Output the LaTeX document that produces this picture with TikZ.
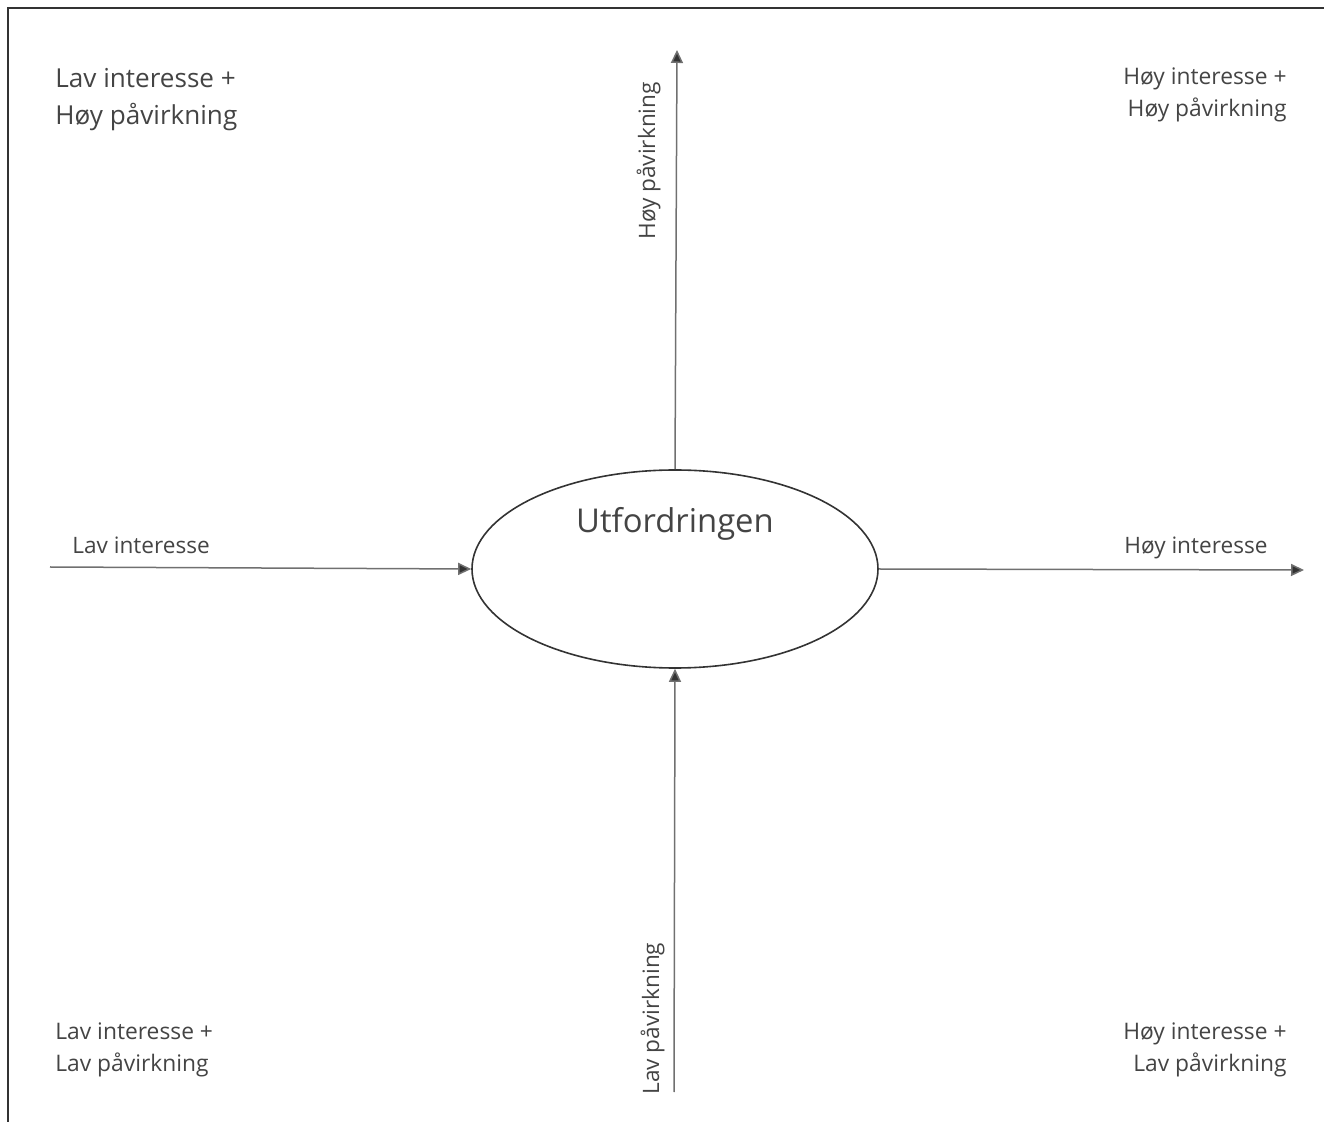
\documentclass[tikz,border=0pt]{standalone}
\usepackage{fontspec}
\setmainfont{Open Sans}
\usetikzlibrary{shapes.geometric,arrows.meta}
\definecolor{txt}{HTML}{444444}
\definecolor{ln}{HTML}{707070}
\definecolor{dk}{HTML}{333333}
\begin{document}
\begin{tikzpicture}[x=0.5pt,y=-0.5pt,
  axis/.style={draw=ln,line width=0.75pt,-{Triangle[length=6.5pt,width=6pt,fill=dk]}},
  corner/.style={inner sep=0pt,text=txt,font=\fontsize{11.4}{16}\selectfont},
  bigcorner/.style={inner sep=0pt,text=txt,font=\fontsize{13.05}{18.5}\selectfont},
  axlabel/.style={inner sep=0pt,text=txt,font=\fontsize{11.3}{14}\selectfont},
  challenge/.style={ellipse,draw=dk,line width=0.8pt,minimum width=203pt,minimum height=99pt,inner sep=0pt}]
\useasboundingbox (0,0) rectangle (1324,1122);
\draw[dk,line width=1pt] (1324,8.5) -- (8,8.5) -- (8,1122);
\node[challenge] (ch) at (675,569) {};
\node[inner sep=0pt,text=txt,font=\fontsize{16.4}{20}\selectfont] (title) at (675,524) {Utfordringen};
\coordinate (lstart) at (50,567);
\coordinate (rend) at (1304,570);
\coordinate (tend) at (677,50);
\coordinate (bstart) at (674,1092);
\draw[axis] (lstart) -- (ch.west);
\draw[axis] (ch.east) -- (rend);
\draw[axis] (ch.north) -- (tend);
\draw[axis] (bstart) -- (ch.south);
\node[axlabel,anchor=north west] (li) at (72,537) {Lav interesse};
\node[axlabel,anchor=north west] (hi) at (1124,537) {Høy interesse};
\node[axlabel,rotate=90,anchor=base west] (hp) at (655,240) {Høy påvirkning};
\node[axlabel,rotate=90,anchor=base west] (lp) at (659,1095) {Lav påvirkning};
\node[bigcorner,anchor=north west,align=left] (tl) at (55,68) {Lav interesse +\\Høy påvirkning};
\node[corner,anchor=north east,align=right] (tr) at (1287,67) {Høy interesse +\\Høy påvirkning};
\node[corner,anchor=north west,align=left] (bl) at (55,1022) {Lav interesse +\\Lav påvirkning};
\node[corner,anchor=north east,align=right] (br) at (1287,1022) {Høy interesse +\\Lav påvirkning};
\end{tikzpicture}
\end{document}
